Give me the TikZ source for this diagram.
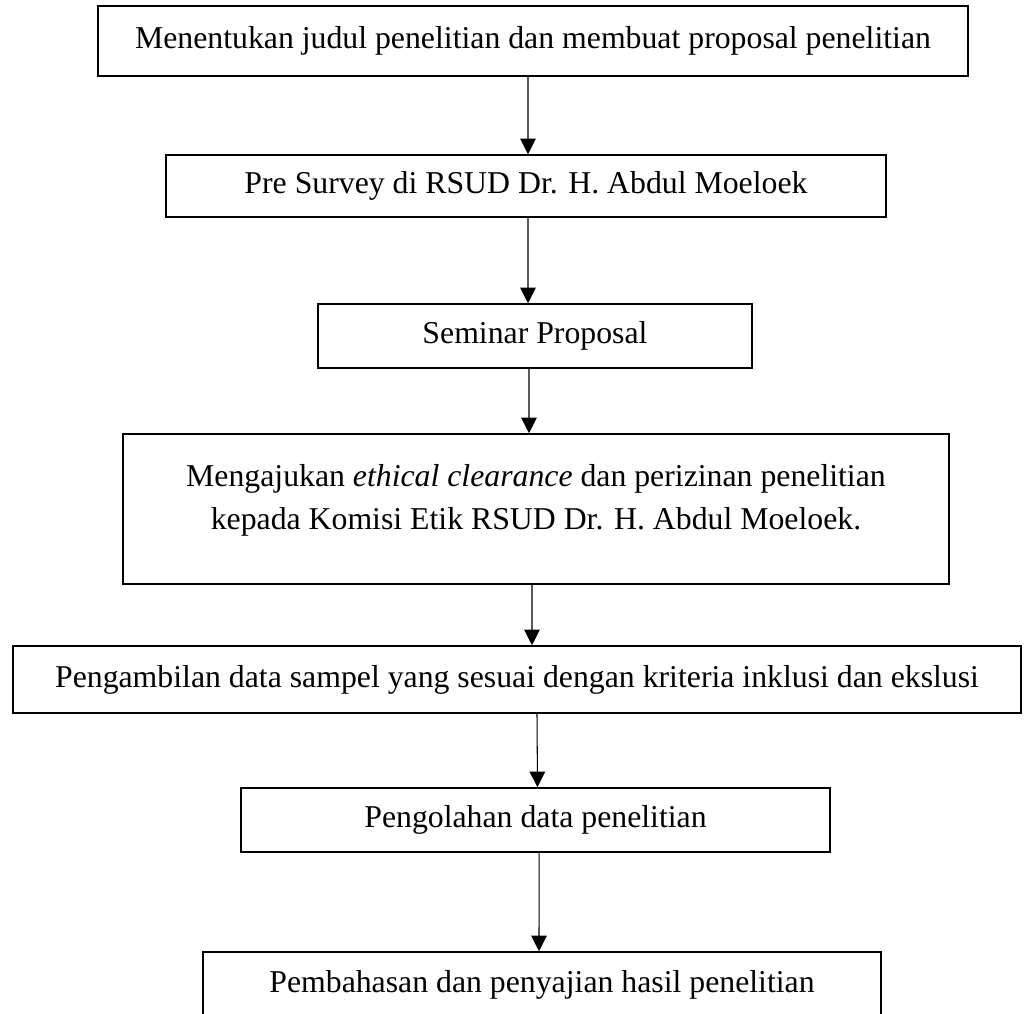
\documentclass[tikz,border=0pt]{standalone}
\usepackage{fontspec}
\setmainfont{Liberation Serif}
\usetikzlibrary{arrows.meta}

\begin{document}
\begin{tikzpicture}[
		tahap/.style={rectangle, draw=black, line width=1.1pt, align=center, inner sep=0pt, font=\fontsize{22.6}{30.6}\selectfont},
		alur/.style={-{Triangle[width=0.39cm, length=0.39cm]}, line width=0.75pt}
		]
		
		\useasboundingbox (0,0) rectangle (25.675,-25.35);
		
		\node[tahap, minimum width=21.75cm, minimum height=1.75cm] (judul) at (13.325,-1.025) {Menentukan judul penelitian dan membuat proposal penelitian};
		\node[tahap, minimum width=18cm, minimum height=1.55cm] (survey) at (13.15,-4.65) {Pre Survey di RSUD Dr. H. Abdul Moeloek};
		\node[tahap, minimum width=10.85cm, minimum height=1.6cm] (seminar) at (13.375,-8.4) {Seminar Proposal};
		\node[tahap, minimum width=20.65cm, minimum height=3.75cm, text depth=0.62cm] (etik) at (13.4,-12.725) {Mengajukan \textit{ethical clearance} dan perizinan penelitian\\kepada Komisi Etik RSUD Dr. H. Abdul Moeloek.};
		\node[tahap, minimum width=25.2cm, minimum height=1.675cm] (sampel) at (12.925,-16.9875) {Pengambilan data sampel yang sesuai dengan kriteria inklusi dan ekslusi};
		\node[tahap, minimum width=14.725cm, minimum height=1.6cm] (olah) at (13.3875,-20.5) {Pengolahan data penelitian};
		\node[tahap, minimum width=16.95cm, minimum height=1.65cm] (bahas) at (13.55,-24.625) {Pembahasan dan penyajian hasil penelitian};
		
		\draw[alur] ([xshift=-0.125cm]judul.south) -- ([xshift=0.05cm]survey.north);
		\draw[alur] ([xshift=0.05cm]survey.south) -- ([xshift=-0.175cm]seminar.north);
		\draw[alur] ([xshift=-0.15cm]seminar.south) -- ([xshift=-0.175cm]etik.north);
		\draw[alur] ([xshift=-0.1cm]etik.south) -- ([xshift=0.375cm]sampel.north);
		\draw[alur] ([xshift=0.5cm]sampel.south) -- ([xshift=0.05cm]olah.north);
		\draw[alur] ([xshift=0.09cm]olah.south) -- ([xshift=-0.075cm]bahas.north);
		
	\end{tikzpicture}
\end{document}
